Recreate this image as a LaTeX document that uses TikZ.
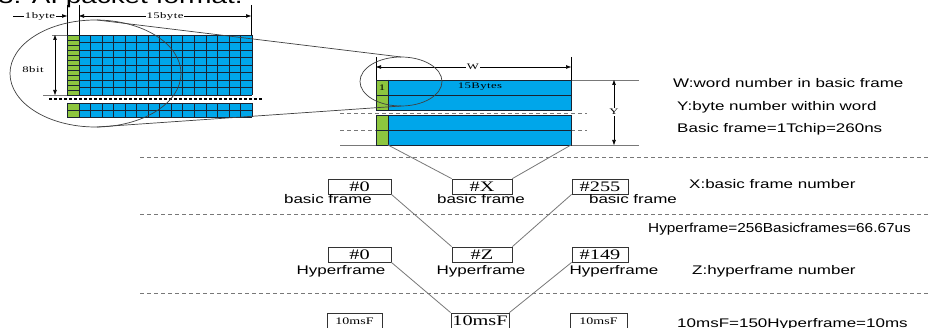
\documentclass[tikz,border=0pt]{standalone}
\usepackage{fontspec}
\setmainfont{Liberation Serif}
\newfontfamily\labf[FakeStretch=1.36]{Liberation Sans}
\newfontfamily\labg[FakeStretch=1.18]{Liberation Sans}
\newfontfamily\boxf[FakeStretch=1.4]{Liberation Serif}
\newfontfamily\dimf[FakeStretch=1.5,LetterSpace=5]{Liberation Serif}
\usetikzlibrary{arrows.meta}
\definecolor{cblue}{RGB}{0,166,234}
\definecolor{cgreen}{RGB}{141,198,63}
\definecolor{lgray}{RGB}{120,120,120}
\definecolor{gridc}{RGB}{25,35,50}
\begin{document}
\begin{tikzpicture}[x=1pt,y=-1pt,
  lab/.style={font=\fontsize{12.5}{14}\labf, inner sep=0, anchor=base west},
  sublab/.style={font=\fontsize{12.5}{14}\labf, inner sep=0, anchor=base},
  numbox/.style={draw=black!80, line width=0.8pt, inner sep=0, minimum height=15pt, font=\fontsize{14.5}{16}\boxf},
  smallbox/.style={numbox, font=\fontsize{10}{12}\boxf},
  dimtxt/.style={font=\fontsize{8.5}{10}\dimf, inner sep=1pt, fill=white},
  sepline/.style={draw=lgray, dash pattern=on 4pt off 3pt, line width=0.8pt},
  conn/.style={draw=lgray, line width=0.8pt},
  gridl/.style={draw=gridc, line width=0.7pt},
  ellc/.style={draw=black!75, line width=0.7pt},
  tri/.style={line width=0.6pt, arrows={-Triangle[length=5pt,width=3.5pt]}},
  tritwo/.style={line width=0.6pt, arrows={Triangle[length=5pt,width=3.5pt]-Triangle[length=5pt,width=3.5pt]}},
]
\clip (0,0) rectangle (928,328);
\fill[white] (0,0) rectangle (928,328);
% title (cut off at the top)
\node[font=\fontsize{20.5}{24}\labf, anchor=base west, inner sep=0] (title) at (-2,4) {3. AI packet format.};

% ---------- top-left grid ----------
\fill[cgreen] (67,35) rectangle (79,95);
\fill[cblue] (79,35) rectangle (252,95);
\foreach \i in {0,...,15} \draw[gridl] ({79+\i*173/15},35) -- ++(0,60);
\foreach \j in {0,...,8} \draw[gridl] (79,{35+\j*7.5}) -- (252,{35+\j*7.5});
\foreach \j in {0,...,12} \draw[gridl] (67,{35+\j*5}) -- (79,{35+\j*5});
\draw[gridl] (67,35) -- (67,95);
\fill[cgreen] (67,103) rectangle (79,117);
\fill[cblue] (79,103) rectangle (252,117);
\foreach \i in {0,...,15} \draw[gridl] ({79+\i*173/15},103) -- ++(0,14);
\foreach \j in {0,...,2} \draw[gridl] (67,{103+\j*7}) -- (252,{103+\j*7});
\draw[gridl] (67,103) -- (67,117);
\draw[line width=1.2pt, dash pattern=on 3pt off 2pt] (49,99) -- (262,99);
\draw[conn, line width=0.6pt] (52,35) -- (67,35);
\draw[conn, line width=0.6pt] (43,95) -- (67,95);
\draw[tritwo] (55,35) -- (55,95);
\node[dimtxt, fill=none] (eightbit) at (33,70) {8bit};
\draw[line width=0.6pt] (67,5) -- (67,35);
\draw[line width=0.6pt] (79,5) -- (79,35);
\draw[line width=0.6pt] (251,5) -- (251,35);
\draw[tri] (13,16) -- (67,16);
\node[dimtxt] (onebyte) at (40,16) {1byte};
\draw[tritwo] (79,16) -- (251,16);
\node[dimtxt] (fifteenbyte) at (165,16) {15byte};
\draw[ellc] (95.5,73.5) ellipse [x radius=85.5, y radius=53.5];

% ---------- middle word diagram ----------
\draw[sepline, line width=0.6pt] (340,113) -- (587,113);
\draw[sepline, line width=0.6pt] (340,130) -- (587,130);
\draw[conn] (340,145) -- (639,145);
\draw[conn] (571,80) -- (639,80);
\fill[cgreen] (376,80) rectangle (388,110);
\fill[cblue] (388,80) rectangle (571,110);
\draw[gridl] (376,80) rectangle (571,110);
\draw[gridl] (388,80) -- (388,110);
\draw[gridl] (376,95) -- (571,95);
\fill[cgreen] (376,115) rectangle (388,145);
\fill[cblue] (388,115) rectangle (571,145);
\draw[gridl] (376,115) rectangle (571,145);
\draw[gridl] (388,115) -- (388,145);
\draw[gridl] (376,130) -- (571,130);
\draw[line width=0.6pt] (376,57) -- (376,80);
\draw[line width=0.6pt] (571,57) -- (571,80);
\draw[tritwo] (376,67) -- (571,67);
\node[dimtxt] (wlab) at (473,67) {W};
\draw[tritwo] (614,80) -- (614,145);
\node[dimtxt] (ylab) at (614,112) {Y};
\node[dimtxt, fill=none] (one) at (382,88) {1};
\node[dimtxt, fill=none] (fbytes) at (480,87) {15Bytes};
\draw[ellc] (401,81.5) ellipse [x radius=41, y radius=24.5];
\coordinate (bigT) at (97,20);
\coordinate (bigB) at (97,127);
\coordinate (smT) at (401,57);
\coordinate (smB) at (401,106);
\draw[ellc] (bigT) -- (smT);
\draw[ellc] (bigB) -- (smB);
\coordinate (lbl) at (388,145);
\coordinate (lbr) at (571,145);

% ---------- separators ----------
\draw[sepline] (140,157) -- (928,157);
\draw[sepline] (140,214) -- (928,214);
\draw[sepline] (140,293) -- (928,293);

% ---------- basic frames ----------
\node[numbox, minimum width=63pt] (b0) at (359.5,186.5) {\#0};
\node[numbox, minimum width=60pt] (bX) at (482,186.5) {\#X};
\node[numbox, minimum width=56pt] (b255) at (600,186.5) {\#255};
\node[sublab] (b0l) at (328,204) {basic frame};
\node[sublab] (bXl) at (481,204) {basic frame};
\node[sublab] (b255l) at (633,204) {basic frame};

% ---------- hyperframes ----------
\node[numbox, minimum width=63pt] (h0) at (359.5,254.5) {\#0};
\node[numbox, minimum width=60pt] (hZ) at (482,254.5) {\#Z};
\node[numbox, minimum width=56pt] (h149) at (600,254.5) {\#149};
\node[sublab] (h0l) at (341,275) {Hyperframe};
\node[sublab] (hZl) at (481,275) {Hyperframe};
\node[sublab] (h149l) at (614,275) {Hyperframe};

% ---------- 10ms frames ----------
\node[smallbox, minimum width=55pt, minimum height=16pt] (f0) at (354.5,321) {10msF};
\node[numbox, minimum width=58pt, minimum height=16pt] (fm) at (480,321) {10msF};
\node[smallbox, minimum width=57pt, minimum height=16pt] (f149) at (598.5,321) {10msF};

% ---------- connectors ----------
\draw[conn] (lbl) -- (bX.north west);
\draw[conn] (lbr) -- (bX.north east);
\draw[conn] (b0.south east) -- (hZ.north west);
\draw[conn] (b255.south west) -- (hZ.north east);
\draw[conn] (h0.south east) -- (fm.north west);
\draw[conn] (h149.south west) -- (fm.north east);

% ---------- right-hand notes ----------
\node[lab] (nW) at (673,88) {W:word number in basic frame};
\node[lab] (nY) at (677,110.7) {Y:byte number within word};
\node[lab] (nB) at (677,133) {Basic frame=1Tchip=260ns};
\node[lab] (nX) at (689,189) {X:basic frame number};
\node[font=\fontsize{13}{15}\labg, inner sep=0, anchor=base west] (nH) at (648,233) {Hyperframe=256Basicframes=66.67us};
\node[lab] (nZ) at (692,275) {Z:hyperframe number};
\node[lab] (nF) at (677,327) {10msF=150Hyperframe=10ms};
\end{tikzpicture}
\end{document}
